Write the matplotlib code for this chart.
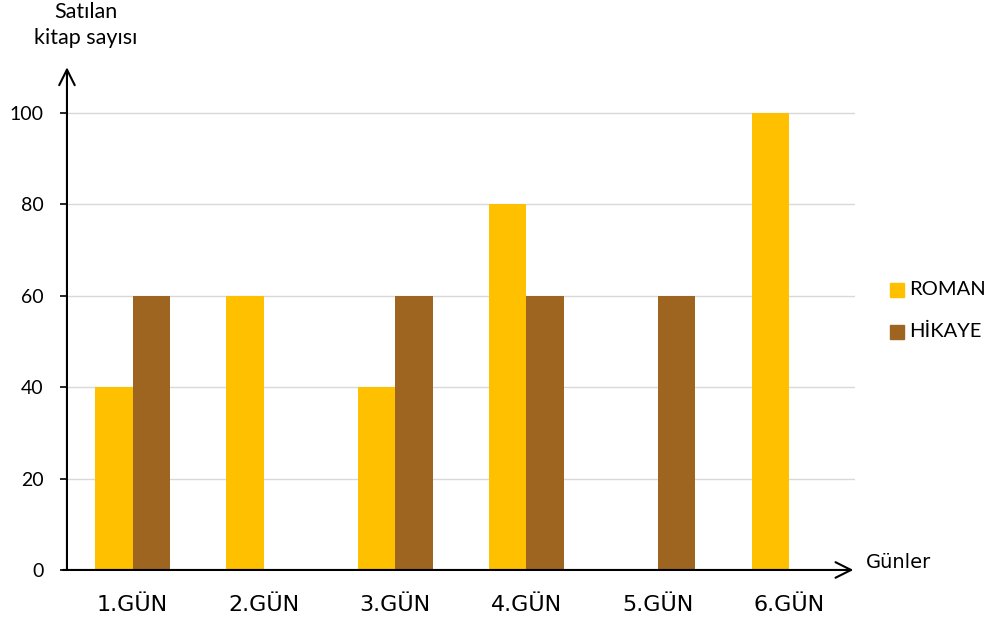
import numpy as np
from matplotlib import pyplot as plt
from matplotlib.patches import Rectangle

days = ["1.GÜN", "2.GÜN", "3.GÜN", "4.GÜN", "5.GÜN", "6.GÜN"]
roman = [40, 60, 40, 80, 0, 100]
hikaye = [60, 0, 60, 60, 60, 0]
series_names = ["ROMAN", "HİKAYE"]
y_ticks = [0, 20, 40, 60, 80, 100]

ROMAN_COLOR = "#FFC000"
HIKAYE_COLOR = "#9E6520"
LABEL_FONT = ["Lato", "DejaVu Sans"]

fig = plt.figure(figsize=(9.95, 6.26), dpi=100)
ax = fig.add_axes([0.0673, 0.0895, 0.7917, 0.803])

x = np.arange(len(days)) + 0.5
w = 0.285
ax.bar(x - w / 2, roman, width=w, color=ROMAN_COLOR, zorder=2)
ax.bar(x + w / 2, hikaye, width=w, color=HIKAYE_COLOR, zorder=2)

ax.set_xlim(0, 6)
ax.set_ylim(0, 110)
ax.set_yticks(y_ticks)
ax.set_yticklabels([str(t) for t in y_ticks], fontsize=14, family=LABEL_FONT)
ax.set_xticks(x)
ax.set_xticklabels(days, fontsize=16, family="DejaVu Sans")
ax.tick_params(axis="x", length=0, pad=18)
ax.tick_params(axis="y", length=5, width=1.2, pad=12)

for t in y_ticks[1:]:
    ax.axhline(t, color="#D9D9D9", lw=1, zorder=1)

for s in ax.spines.values():
    s.set_visible(False)

# axis arrows
ax.annotate("", xy=(0, 110), xytext=(0, 0), xycoords="data",
            arrowprops=dict(arrowstyle="->", lw=1.5, mutation_scale=28,
                            shrinkA=0, shrinkB=0, color="black"),
            annotation_clip=False, zorder=3)
ax.annotate("", xy=(5.99, 0), xytext=(-0.03, 0), xycoords="data",
            arrowprops=dict(arrowstyle="->", lw=1.5, mutation_scale=28,
                            shrinkA=0, shrinkB=0, color="black"),
            annotation_clip=False, zorder=3)

fig.text(86 / 995, 1 - 25 / 626, "Satılan\nkitap sayısı", ha="center", va="center",
         fontsize=15.5, family=LABEL_FONT, linespacing=1.35)
fig.text(866 / 995, 1 - 563 / 626, "Günler", ha="left", va="center",
         fontsize=14, family="DejaVu Sans")

# legend
for i, (name, col) in enumerate(zip(series_names, [ROMAN_COLOR, HIKAYE_COLOR])):
    yc = 1 - (289.5 + i * 42) / 626
    fig.patches.append(Rectangle((890 / 995, yc - 7 / 626), 14 / 995, 14 / 626,
                                 transform=fig.transFigure, color=col))
    fig.text(909 / 995, yc, name, ha="left", va="center", fontsize=14.5,
             family=LABEL_FONT)

fig.savefig("out.png", dpi=100)
